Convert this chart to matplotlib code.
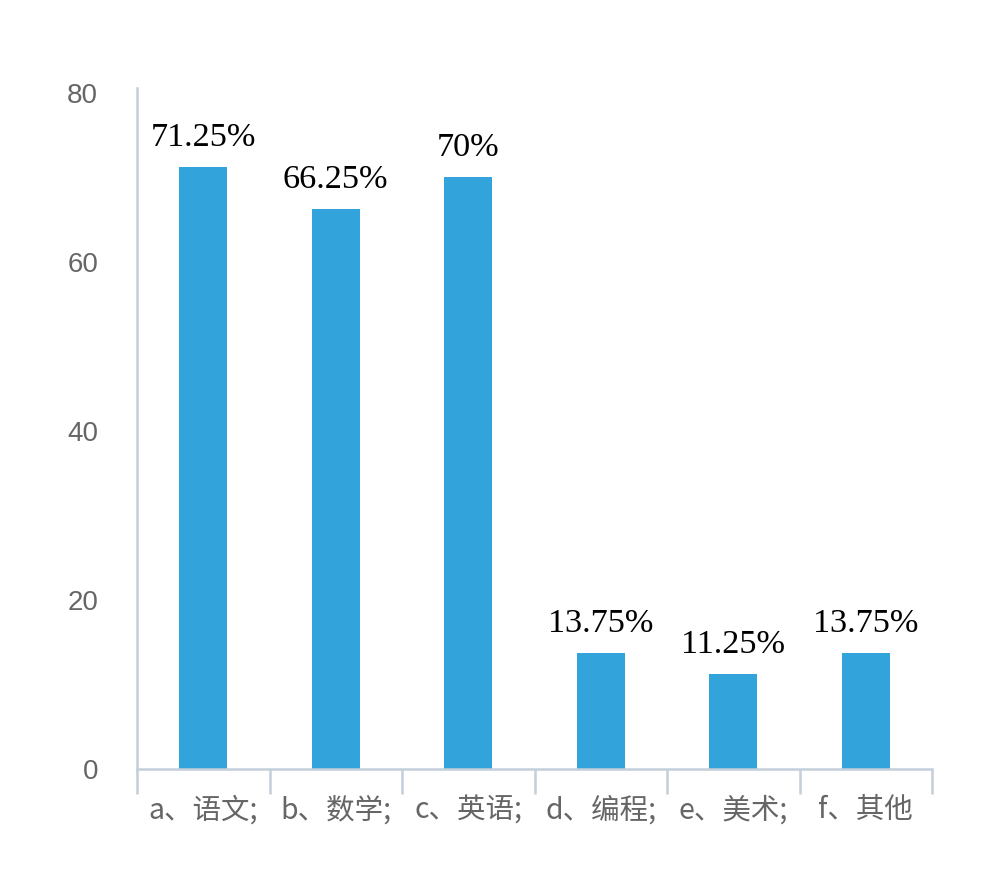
import matplotlib

matplotlib.use("Agg")
import matplotlib.pyplot as plt
import numpy as np

categories = ["a、语文;", "b、数学;", "c、英语;", "d、编程;", "e、美术;", "f、其他"]
values = [71.25, 66.25, 70, 13.75, 11.25, 13.75]
value_labels = ["71.25%", "66.25%", "70%", "13.75%", "11.25%", "13.75%"]
y_ticks = [0, 20, 40, 60, 80]

BAR = "#33a3dc"
AXIS = "#c3cfda"
GREY = "#666666"

fig = plt.figure(figsize=(10, 8.75), dpi=100)
ax = fig.add_axes([0.137, 0.1211, 0.795, 0.778])

x = np.arange(len(categories))
ax.bar(x, values, width=0.36, color=BAR, zorder=2)
for xi, v, lab in zip(x, values, value_labels):
    ax.annotate(lab, (xi, v), xytext=(0, 10), textcoords="offset points",
                ha="center", va="bottom", fontsize=24.7,
                family=["Liberation Serif", "DejaVu Serif"], color="black")

ax.set_xlim(-0.5, len(categories) - 0.5)
ax.set_ylim(0, 80.5)

ax.set_yticks(y_ticks)
ax.set_yticklabels([str(t) for t in y_ticks], fontsize=20, color=GREY,
                   family=["Liberation Sans", "DejaVu Sans"])
ax.tick_params(axis="y", length=0, pad=28)

ax.set_xticks(x)
ax.set_xticklabels(categories, fontsize=20.5, color=GREY,
                   family=["Noto Sans CJK SC", "DejaVu Sans"])
ax.set_xticks(np.arange(len(categories) + 1) - 0.5, minor=True)
ax.tick_params(axis="x", which="major", length=0, pad=19)
ax.tick_params(axis="x", which="minor", length=18, width=1.8, color=AXIS, direction="out")

for side in ("top", "right"):
    ax.spines[side].set_visible(False)
for side in ("left", "bottom"):
    ax.spines[side].set_color(AXIS)
    ax.spines[side].set_linewidth(1.8)

fig.savefig("out.png", dpi=100, facecolor="white")
